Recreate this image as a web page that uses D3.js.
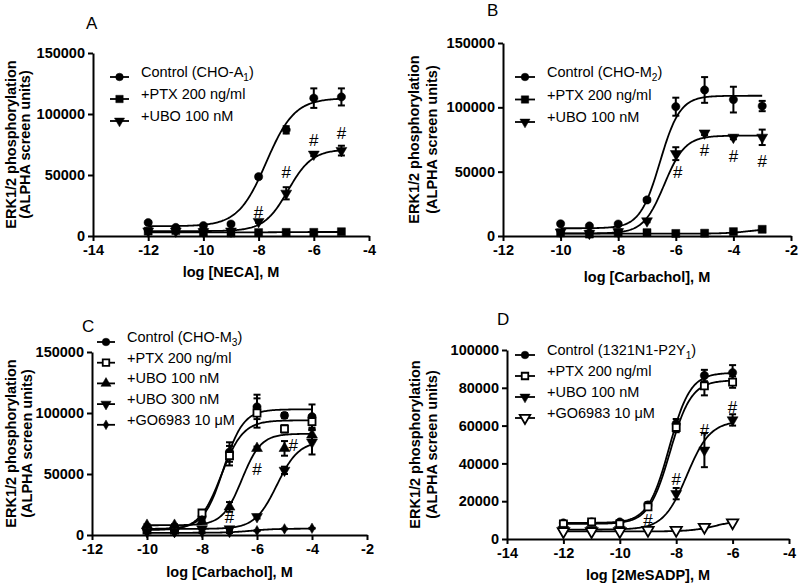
<!DOCTYPE html>
<html><head><meta charset="utf-8">
<script src="https://cdn.jsdelivr.net/npm/d3@7"></script>
<style>body{margin:0;background:#fff} svg text{font-family:Arial,"Liberation Sans",Helvetica,sans-serif}</style>
</head><body><svg id="c" width="800" height="587"></svg>
<script>
// ---------------- DATA ----------------
// Panel A (NECA, CHO-A1)
const xA = [-12,-11,-10,-9,-8,-7,-6,-5];
const aControl    = [11000,7000,8500,9800,48600,87000,113000,114000];
const aControlErr = [1200,800,800,1000,1500,3000,8000,7000];
const aPTX        = [4000,4500,3000,2500,2800,3000,3000,3500];
const aPTXErr     = [600,500,400,400,400,400,400,500];
const aUBO        = [4000,4000,3500,4000,11800,35000,67000,70000];
const aUBOErr     = [500,500,500,500,1000,5000,1500,4000];
const aControlFit = [8000,113000,-7.72,0.85];   // bottom, top, logEC50, hill
const aPTXFit     = [3000,3300,-7,1];
const aUBOFit     = [4000,71000,-6.93,1];
const aHashX = [-8,-7,-6,-5];
const aHashY = [20000,52800,78800,84900];
const aLegend = ["Control (CHO-A_1_)","+PTX 200 ng/ml","+UBO 100 nM"];

// Panel B (Carbachol, CHO-M2)
const xB = [-10,-9,-8,-7,-6,-5,-4,-3];
const bControl    = [9500,7800,9300,28000,100500,113500,106000,101000];
const bControlErr = [800,800,800,1500,7000,10000,10000,4000];
const bPTX        = [2500,1500,2500,2600,2000,2200,3400,5200];
const bPTXErr     = [400,400,400,400,400,400,400,500];
const bUBO        = [3000,2000,3400,11700,64000,80000,76700,76700];
const bUBOErr     = [500,500,500,1000,5000,1500,1500,6000];
const bControlFit = [6000,109000,-6.55,1.25];
const bPTXFit     = [1800,6000,-3.4,1];
const bUBOFit     = [2000,78000,-6.4,1.2];
const bHashX = [-5.93,-5,-4,-3];
const bHashY = [50000,67000,62000,58000];
const bLegend = ["Control (CHO-M_2_)","+PTX 200 ng/ml","+UBO 100 nM"];

// Panel C (Carbachol, CHO-M3)
const xC = [-10,-9,-8,-7,-6,-5,-4];
const cControl    = [5000,5000,15000,68000,105000,98000,97000];
const cControlErr = [800,800,1500,8000,10000,2000,10000];
const cPTX        = [4000,4000,18000,65000,100000,87000,93000];
const cPTXErr     = [800,800,2000,8000,12000,3000,5000];
const cUBO100     = [8000,8000,11000,23000,71000,71000,82000];
const cUBO100Err  = [800,800,1000,4000,1500,6000,4000];
const cUBO300     = [3000,3000,5000,5000,15000,53000,76000];
const cUBO300Err  = [500,500,500,800,1500,3000,10000];
const cGO         = [2000,2000,2000,2000,3500,5000,5500];
const cGOErr      = [300,300,300,300,300,300,300];
const cControlFit = [5000,103000,-7.22,1.2];
const cPTXFit     = [4000,94000,-7.3,1.1];
const cUBO100Fit  = [8000,83000,-6.55,1.25];
const cUBO300Fit  = [5000,77000,-5.275,1.09];
const cGOFit      = [1800,5200,-6.2,1];
const cHashX = [-7,-6,-4.68];
const cHashY = [15000,54500,73600];
const cLegend = ["Control (CHO-M_3_)","+PTX 200 ng/ml","+UBO 100 nM","+UBO 300 nM","+GO6983 10 μM"];

// Panel D (2MeSADP, 1321N1-P2Y1)
const xD = [-12,-11,-10,-9,-8,-7,-6];
const dControl    = [8500,9000,9000,18000,61000,86500,88000];
const dControlErr = [800,800,800,1500,2500,3000,4000];
const dPTX        = [8000,9000,8000,17000,59000,81000,83000];
const dPTXErr     = [800,800,800,1500,2500,5000,3000];
const dUBO        = [5000,5000,5000,5000,24000,47000,63000];
const dUBOErr     = [600,600,600,600,3000,9000,3000];
const dGO         = [4000,4000,4000,4700,4700,6300,8600];
const dGOErr      = [400,400,400,400,400,400,400];
const dControlFit = [8500,88000,-8.25,1.16];
const dPTXFit     = [8000,84000,-8.22,1.15];
const dUBOFit     = [5000,62500,-7.62,1.05];
const dGOFit      = [4000,10000,-6.6,1];
const dHashX = [-9,-8,-7,-6];
const dHashY = [10200,32000,57700,70000];
const dLegend = ["Control (1321N1-P2Y_1_)","+PTX 200 ng/ml","+UBO 100 nM","+GO6983 10 μM"];

// ---------------- LAYOUT ----------------
const panels = [
  {title:"A", tp:[86,29], xd:[-14,-4], yd:[0,150000], xr:[93,369], yr:[236,53], yt:[0,50000,100000,150000], xt:[-14,-12,-10,-8,-6,-4],
   xl:"log [NECA], M", xlDy:41, ylx:[11,25], lgLine:[110,129], lgText:141, lgY0:77, lgDy:22,
   series:[
     {x:xA,y:aControl,e:aControlErr,f:aControlFit,s:"circle"},
     {x:xA,y:aPTX,e:aPTXErr,f:aPTXFit,s:"square"},
     {x:xA,y:aUBO,e:aUBOErr,f:aUBOFit,s:"tridown"}],
   legend:aLegend, hx:aHashX, hy:aHashY},
  {title:"B", tp:[487,16], xd:[-12,-2], yd:[0,150000], xr:[503,791], yr:[236,43], yt:[0,50000,100000,150000], xt:[-12,-10,-8,-6,-4,-2],
   xl:"log [Carbachol], M", xlDy:46, ylx:[414,432], lgLine:[515,535], lgText:547, lgY0:77, lgDy:22.5,
   series:[
     {x:xB,y:bControl,e:bControlErr,f:bControlFit,s:"circle"},
     {x:xB,y:bPTX,e:bPTXErr,f:bPTXFit,s:"square"},
     {x:xB,y:bUBO,e:bUBOErr,f:bUBOFit,s:"tridown"}],
   legend:bLegend, hx:bHashX, hy:bHashY},
  {title:"C", tp:[82,332], xd:[-12,-2], yd:[0,150000], xr:[92,367], yr:[535,352], yt:[0,50000,100000,150000], xt:[-12,-10,-8,-6,-4,-2],
   xl:"log [Carbachol], M", xlDy:42, ylx:[11,27], lgLine:[97,115], lgText:127, lgY0:342, lgDy:20.7,
   series:[
     {x:xC,y:cControl,e:cControlErr,f:cControlFit,s:"circle"},
     {x:xC,y:cPTX,e:cPTXErr,f:cPTXFit,s:"squareOpen"},
     {x:xC,y:cUBO100,e:cUBO100Err,f:cUBO100Fit,s:"triup"},
     {x:xC,y:cUBO300,e:cUBO300Err,f:cUBO300Fit,s:"tridown"},
     {x:xC,y:cGO,e:cGOErr,f:cGOFit,s:"diamond"}],
   legend:cLegend, hx:cHashX, hy:cHashY},
  {title:"D", tp:[497,325], xd:[-14,-4], yd:[0,100000], xr:[507,789], yr:[539,350], yt:[0,20000,40000,60000,80000,100000], xt:[-14,-12,-10,-8,-6,-4],
   xl:"log [2MeSADP], M", xlDy:41, ylx:[415,432], lgLine:[515,535], lgText:547, lgY0:355, lgDy:21,
   series:[
     {x:xD,y:dControl,e:dControlErr,f:dControlFit,s:"circle"},
     {x:xD,y:dPTX,e:dPTXErr,f:dPTXFit,s:"squareOpen"},
     {x:xD,y:dUBO,e:dUBOErr,f:dUBOFit,s:"tridown"},
     {x:xD,y:dGO,e:dGOErr,f:dGOFit,s:"tridownOpen"}],
   legend:dLegend, hx:dHashX, hy:dHashY}
];

const svg = d3.select("#c");
const fourPL = (p, x) => p[0] + (p[1]-p[0]) / (1 + Math.pow(10, p[3]*(p[2]-x)));

function symbolPath(s, scale) {
  const k = scale || 1;
  const map = {
    circle:[d3.symbolCircle,54], square:[d3.symbolSquare,64], squareOpen:[d3.symbolSquare,50],
    triup:[d3.symbolTriangle,52], tridown:[d3.symbolTriangle,52], tridownOpen:[d3.symbolTriangle,56],
    diamond:[d3.symbolDiamond,32]
  };
  const m = map[s];
  return d3.symbol().type(m[0]).size(m[1]*k)();
}
function drawMarker(g, s, cx, cy, scale) {
  const open = s.endsWith("Open");
  const rot = s.startsWith("tridown") ? 180 : 0;
  g.append("path").attr("d", symbolPath(s, scale))
    .attr("transform", `translate(${cx},${cy}) rotate(${rot})`)
    .attr("fill", open ? "#fff" : "#000")
    .attr("stroke", "#000").attr("stroke-width", open ? 1.8 : 0.5);
}
function labelText(t, str, size) {
  const parts = str.split("_");
  parts.forEach((p, i) => {
    if (!p) return;
    if (i % 2 === 1) t.append("tspan").attr("dy", 4).attr("font-size", size*0.7).text(p);
    else t.append("tspan").attr("dy", i > 0 ? -4 : 0).text(p);
  });
}

panels.forEach(P => {
  const g = svg.append("g");
  const x = d3.scaleLinear().domain(P.xd).range(P.xr);
  const y = d3.scaleLinear().domain(P.yd).range(P.yr);

  // axes
  const ax = g.append("g").attr("transform", `translate(0,${P.yr[0]})`)
    .call(d3.axisBottom(x).tickValues(P.xt).tickSize(5).tickSizeOuter(0).tickPadding(4).tickFormat(d3.format("d")));
  const ay = g.append("g").attr("transform", `translate(${P.xr[0]},0)`)
    .call(d3.axisLeft(y).tickValues(P.yt).tickSize(5).tickSizeOuter(0).tickPadding(3).tickFormat(d3.format("d")));
  [ax, ay].forEach(a => {
    a.attr("font-size", null).attr("font-family", null);
    a.select(".domain").attr("stroke", "#000").attr("stroke-width", 2);
    a.selectAll(".tick line").attr("stroke", "#000").attr("stroke-width", 2);
    a.selectAll(".tick text").attr("fill", "#000").attr("font-size", 14.5).attr("font-weight", "bold")
      .style("font-size", "14.5px").style("font-weight", "bold");
  });
  ax.selectAll(".tick text").text(d => d < 0 ? "-" + Math.abs(d) : d);

  // axis titles
  g.append("text").attr("x", (P.xr[0]+P.xr[1])/2).attr("y", P.yr[0] + P.xlDy)
    .attr("text-anchor", "middle").style("font-size", "14.5px").style("font-weight", "bold").text(P.xl);
  const ymid = (P.yr[0]+P.yr[1])/2;
  ["ERK1/2 phosphorylation", "(ALPHA screen units)"].forEach((t, i) => {
    g.append("text").attr("transform", `translate(${P.ylx[i]},${ymid}) rotate(-90)`)
      .attr("text-anchor", "middle").attr("dy", "0.36em")
      .style("font-size", "14.5px").style("font-weight", "bold").text(t);
  });
  // panel letter
  g.append("text").attr("x", P.tp[0]).attr("y", P.tp[1]).style("font-size", "17px").text(P.title);

  // curves
  const line = d3.line().x(d => x(d[0])).y(d => y(d[1]));
  P.series.forEach(S => {
    const x0 = S.x[0], x1 = S.x[S.x.length-1];
    const pts = d3.range(x0, x1 + 1e-9, 0.04).map(v => [v, fourPL(S.f, v)]);
    g.append("path").attr("d", line(pts)).attr("fill", "none").attr("stroke", "#000").attr("stroke-width", 1.8);
  });
  // error bars
  P.series.forEach(S => {
    S.x.forEach((xv, i) => {
      const e = S.e[i]; if (!e) return;
      const cx = x(xv), yt = y(S.y[i] + e), yb = y(S.y[i] - e);
      g.append("line").attr("x1", cx).attr("x2", cx).attr("y1", yt).attr("y2", yb).attr("stroke", "#000").attr("stroke-width", 2);
      [yt, yb].forEach(yy => g.append("line").attr("x1", cx-3.5).attr("x2", cx+3.5).attr("y1", yy).attr("y2", yy)
        .attr("stroke", "#000").attr("stroke-width", 2));
    });
  });
  // markers
  P.series.forEach(S => {
    S.x.forEach((xv, i) => drawMarker(g, S.s, x(xv), y(S.y[i])));
  });
  // hash marks
  P.hx.forEach((hx, i) => {
    g.append("text").attr("x", x(hx)).attr("y", y(P.hy[i])).attr("dy", "0.36em").attr("text-anchor", "middle")
      .style("font-size", "17px").text("#");
  });
  // legend
  P.series.forEach((S, i) => {
    const ly = P.lgY0 + i * P.lgDy;
    g.append("line").attr("x1", P.lgLine[0]).attr("x2", P.lgLine[1]).attr("y1", ly).attr("y2", ly)
      .attr("stroke", "#000").attr("stroke-width", 1.8);
    drawMarker(g, S.s, (P.lgLine[0]+P.lgLine[1])/2, ly, 0.85);
    const t = g.append("text").attr("x", P.lgText).attr("y", ly).attr("dy", "0.36em").style("font-size", "14.5px");
    labelText(t, P.legend[i], 14.5);
  });
});
</script></body></html>
